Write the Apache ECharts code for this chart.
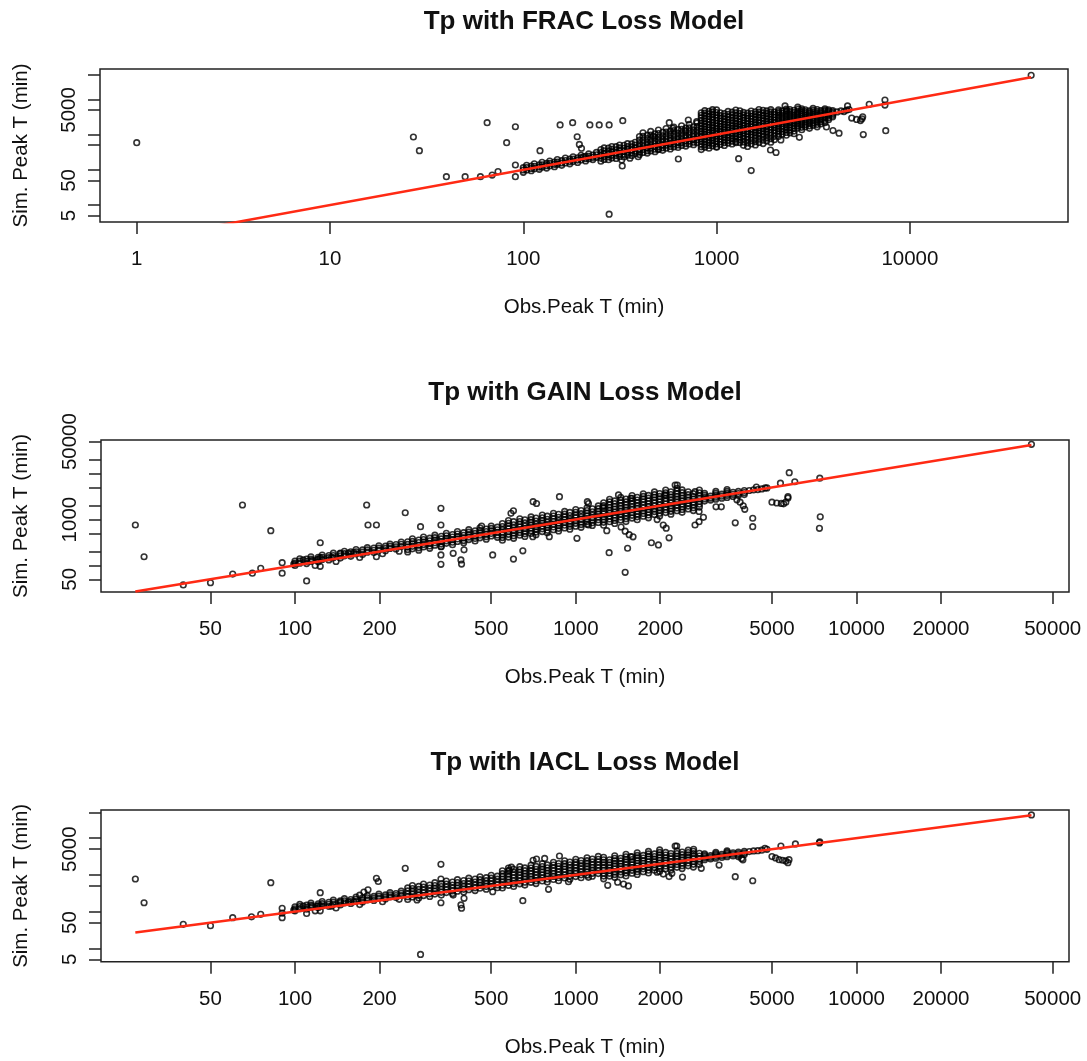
<!DOCTYPE html>
<html>
<head>
<meta charset="utf-8">
<script src="https://cdn.jsdelivr.net/npm/echarts@6/dist/echarts.min.js"></script>
<style>
  html, body { margin: 0; padding: 0; background: #ffffff; }
  #chart { width: 1087px; height: 1061px; }
</style>
</head>
<body>
<div id="chart"></div>
<script>
// ---- text ----
const titles = ['Tp with FRAC Loss Model', 'Tp with GAIN Loss Model', 'Tp with IACL Loss Model'];
const xAxisTitle = 'Obs.Peak T (min)';
const yAxisTitle = 'Sim. Peak T (min)';

// ---- tick values (minutes) ----
const fracXTicks = [1, 10, 100, 1000, 10000];
const lowerXTicks = [50, 100, 200, 500, 1000, 2000, 5000, 10000, 20000, 50000];
const fineYTicks = [5, 10, 50, 100, 500, 1000, 5000, 10000, 50000];
const fineYLabels = [5, 50, 5000];
const gainYTicks = [50, 100, 200, 500, 1000, 2000, 5000, 10000, 20000, 50000];
const gainYLabels = [50, 1000, 50000];

// ---- observed range spanned by the 1:1 line ----
const fracLine = [1, 42400];
const gainLine = [27, 42000];
const iaclLine = [27, 42000];

// ---- FRAC: dense band, [obs, [sim, ...]] ----
const fracBand = [
  [100,[85,99,115]],[104,[99,116,135]],[110,[94,109,127]],[114,[108,126,148]],[121,[103,120,139]],
  [125,[119,139,163]],[132,[112,131,152]],[137,[130,152,178]],[145,[123,143,167]],[150,[143,167,195]],
  [158,[134,156,182]],[165,[157,184,215]],[174,[148,172,200]],[181,[172,201,235]],[191,[162,189,220]],
  [199,[189,221,259]],[210,[179,208,242]],[218,[207,242,283]],[229,[195,227,263]],[239,[227,266,311]],
  [252,[176,212,252,308,378]],[262,[197,238,288,347,419]],[276,[193,231,276,338,414]],
  [287,[215,261,316,381,459]],[302,[211,253,302,370,453]],[315,[236,286,347,418,504]],
  [332,[232,278,332,407,498]],[346,[260,315,381,459,554]],[364,[255,305,364,446,546]],
  [379,[284,344,417,503,606]],
  [399,[271,320,379,459,559,700,878]],[416,[312,378,458,569,707,890,1123]],
  [438,[298,350,416,505,613,770,964]],[456,[342,414,502,624,775,975,1231]],
  [480,[326,385,456,553,672,842,1056]],[500,[375,454,550,684,850,1071,1350]],
  [526,[358,421,500,607,736,923,1157]],[548,[411,498,603,750,932,1174,1480]],
  [576,[392,461,547,664,806,1011,1267]],[601,[451,546,661,822,1022,1288,1623]],
  [632,[430,506,600,728,885,1109,1390]],[659,[494,598,725,901,1120,1412,1779]],
  [693,[471,555,658,799,970,1216,1525]],[722,[542,656,794,987,1227,1546,1949]],
  [760,[517,608,722,877,1064,1334,1672]],[792,[594,719,871,1083,1346,1696,2138]],
  [833,[375,450,541,637,750,884,1041,1232,1458,1743,2083,2500,2999,3534,4165]],
  [869,[435,522,626,738,869,1021,1199,1418,1677,2002,2390,2868,3441,4056,4780]],
  [913,[411,494,593,698,822,968,1141,1350,1598,1910,2283,2739,3287,3874,4565]],
  [953,[477,572,686,809,953,1119,1315,1555,1839,2195,2621,3145,3774,4387,5100]],
  [1000,[450,541,650,765,900,1061,1250,1479,1750,2092,2500,3000,3600,4243,5000]],
  [1045,[523,627,752,886,1045,1228,1442,1706,2017,2408,2874,3448,4138]],
  [1097,[494,593,713,839,987,1163,1371,1622,1920,2295,2743,3291,3949]],
  [1146,[573,688,825,972,1146,1346,1581,1870,2212,2640,3152,3782,4538]],
  [1203,[541,650,782,920,1083,1276,1504,1779,2105,2516,3008,3609,4331]],
  [1257,[629,754,905,1067,1257,1477,1735,2052,2426,2896,3457,4148,4978]],
  [1320,[594,714,858,1010,1188,1400,1650,1952,2310,2761,3300,3960,4752]],
  [1377,[496,618,771,922,1102,1292,1515,1798,2134,2543,3029,3596,4269]],
  [1446,[463,579,723,868,1041,1227,1446,1711,2024,2419,2892,3422,4049]],
  [1510,[544,678,846,1011,1208,1417,1661,1972,2341,2789,3322,3943,4681]],
  [1587,[508,635,794,953,1143,1347,1587,1878,2222,2656,3174,3756,4444]],
  [1656,[596,743,927,1108,1325,1554,1822,2163,2567,3058,3643,4325,5134]],
  [1740,[557,696,870,1044,1253,1476,1740,2059,2436,2911,3480,4118,4872]],
  [1816,[654,816,1017,1216,1453,1704,1998,2372,2815,3354,3995,4700]],
  [1907,[610,763,954,1145,1373,1618,1907,2257,2670,3191,3814,4400,5100]],
  [1990,[716,893,1114,1332,1592,1867,2189,2599,3085,3675,4378]],
  [2091,[878,1050,1255,1467,1715,1986,2300,2641,3032,3516,4077,4520,5018]],
  [2183,[1026,1225,1463,1714,2008,2312,2663,3069,3536,4074,4693]],
  [2294,[963,1151,1376,1609,1881,2178,2523,2897,3326,3857,4473,4870,5300]],
  [2393,[1125,1343,1603,1879,2202,2535,2919,3364,3877,4466,5145]],
  [2515,[1056,1262,1509,1764,2062,2389,2767,3177,3647,4229,4904]],
  [2625,[1523,1766,2048,2376,2756,3160,3623,4080,4594]],
  [2757,[1379,1608,1875,2157,2481,2865,3308,3760,4273,4793,5376]],
  [2877,[1669,1935,2244,2604,3021,3463,3970,4471,5035]],
  [3022,[1511,1762,2055,2364,2720,3140,3626,4121,4684]],
  [3155,[1830,2122,2461,2855,3313,3798,4354,4903,5521]],
  [3314,[1657,1933,2254,2593,2983,3444,3977,4520,5137]],
  [3460,[2007,2327,2699,3131,3633,4165,4775]],
  [3634,[2180,2517,2907,3250,3634,4063,4543,4953,5400]],
  [3795,[2657,3013,3416,3776,4174,4568,5000]],
  [3985,[3188,3564,3985,4365,4782]],
  [4200,[4400]],[4400,[4700]],[4560,[4500]],[4700,[4950]],[4850,[5150]]
];
// ---- FRAC: scattered points [obs, sim] ----
const fracScatter = [
  [1,590],[27,855],[29,350],[40,64],[50,64],[60,64],[65,2180],[69,71],[74,89],[82,590],[91,1670],
  [91,137],[91,64],[122,350],[155,1880],[180,2180],[190,870],[195,525],[200,410],[205,234],[221,1880],
  [247,1880],[278,1880],[327,2480],[278,5.5],[323,190],[325,129],[356,213],[393,236],[500,383],[634,203],
  [569,2180],[593,1510],[714,2600],[789,2340],[470,912],[690,1300],[1300,207],[1510,95],[1900,365],
  [2030,310],[2150,705],[2680,835],[1000,437],[1260,590],[2260,6500],[2630,6000],[2650,5300],[4760,6500],
  [6160,7250],[7430,9600],[7430,6900],[7500,1290],[5740,1000],[5000,2950],[5300,2700],[5550,2500],
  [5700,3200],[5650,2800],[3700,1650],[4300,1100],[4000,1300],[42400,48000]
];

// ---- GAIN ----
const gainBand = [
  [100,[100,112,125]],[104,[112,125,140]],[110,[110,123,138]],[114,[123,138,154]],[121,[121,135,151]],
  [125,[135,151,169]],[132,[132,148,165]],[137,[148,165,185]],[145,[145,162,181]],[150,[162,181,203]],
  [158,[158,177,198]],[165,[178,199,223]],[174,[174,195,218]],[181,[195,218,244]],[191,[191,214,239]],
  [199,[215,240,269]],[210,[210,235,263]],[218,[235,263,294]],[229,[229,256,286]],[239,[258,289,323]],
  [118,[100]],[140,[122]],[170,[150]],[205,[180]],[235,[205]],
  [252,[197,222,252,287,328]],[262,[231,261,296,335,380]],[276,[215,243,276,315,359]],
  [287,[253,286,324,367,416]],[302,[236,267,302,344,393]],[315,[277,314,356,403,457]],
  [332,[259,293,332,379,432]],[346,[304,345,391,443,502]],[364,[284,321,364,415,473]],
  [379,[334,378,428,485,550]],[399,[311,352,399,455,519]],[416,[366,415,470,532,603]],
  [438,[342,387,438,499,569]],[456,[401,455,515,583,661]],[480,[374,424,480,547,624]],
  [500,[440,499,565,640,725]],[526,[410,464,526,600,684]],
  [548,[356,406,466,530,603,704,822]],[576,[415,477,547,628,720,827,950]],
  [601,[391,447,511,581,661,772,902]],[632,[455,522,600,689,790,908,1043]],
  [659,[428,490,560,637,725,847,989]],[693,[499,573,658,755,866,995,1143]],
  [722,[469,537,614,698,794,927,1083]],[760,[547,628,722,828,950,1091,1254]],
  [792,[515,589,673,766,871,1017,1188]],[833,[600,689,791,907,1041,1196,1374]],
  [869,[565,646,739,841,956,1117,1304]],[913,[657,755,867,995,1141,1311,1506]],
  [953,[619,708,810,921,1048,1224,1430]],[1000,[720,827,950,1090,1250,1436,1650]],
  [1045,[679,777,888,1011,1150,1343,1568]],[1097,[790,907,1042,1195,1371,1575,1810]],
  [1146,[745,852,974,1108,1261,1472,1719]],[1203,[866,995,1143,1311,1504,1728,1985]],
  [1257,[754,871,1006,1152,1320,1524,1760,2023,2325]],[1320,[898,1033,1188,1372,1584,1829,2112,2420,2772]],
  [1377,[826,954,1102,1262,1446,1670,1928,2216,2547]],[1446,[983,1131,1301,1502,1735,2004,2314,2651,3037]],
  [1510,[906,1046,1208,1384,1586,1831,2114,2430,2794]],[1587,[1079,1241,1428,1649,1904,2199,2539,2909,3333]],
  [1656,[994,1148,1325,1518,1739,2008,2318,2665,3064]],[1740,[1183,1361,1566,1808,2088,2411,2784,3189,3654]],
  [1816,[1090,1258,1453,1665,1907,2202,2542,2923,3360]],[1907,[1297,1492,1716,1982,2288,2642,3051,3496,4005]],
  [1990,[1194,1379,1592,1824,2090,2413,2786,3203,3682]],[2091,[1422,1636,1882,2173,2509,2897,3346,3833,4391]],
  [2183,[1310,1512,1746,2000,2292,2647,3056,3513,4039]],[2294,[1560,1795,2065,2384,2753,3179,3670,4205,4817]],
  [2393,[1436,1658,1914,2193,2513,2901,3350,3851,4427]],[2515,[1710,1968,2264,2614,3018,3485,4024]],
  [2625,[1575,1819,2100,2406,2756,3183,3675]],[2757,[1875,2157,2481,2865,3308,3820,4411]],
  [2877,[2532,2805,3107,3409,3740]],[3022,[2660,2947,3264]],[3155,[2776,3075,3407,3737,4100]],
  [3314,[2916,3231,3579]],[3460,[3045,3373,3737,4101,4500]],[3634,[3198,3543,3925]],
  [3795,[3340,3700,4099]],[3985,[3507,3885,4304]],
  [4150,[4300]],[4300,[4450]],[4450,[4500]],[4600,[4650]],[4800,[4900]]
];
const gainScatter = [
  [27,762],[29,155],[40,37.6],[50,42],[60,65],[65,2080],[70.5,68],[75.5,87],[82,573],[90,115],[90,68],
  [99,107],[110,46],[107,132],[115,130],[120,135],[123,313],[123,148],[123,96],[135,148],[145,186],
  [155,186],[162,190],[180,2080],[182,762],[195,762],[195,155],[247,1410],[280,700],[331,1760],[331,762],
  [331,257],[331,170],[331,106],[366,184],[390,132],[392,107],[400,219],[462,725],[506,170],[588,1370],
  [600,1550],[600,138],[648,209],[705,2450],[725,2240],[703,424],[805,424],[875,3160],[1010,390],
  [1100,2450],[1110,2240],[1110,762],[1250,1900],[1290,573],[1315,190],[1420,3440],[1450,690],[1500,560],
  [1550,470],[1600,420],[1530,237],[1500,71],[1570,2900],[1860,313],[1970,280],[1950,1000],[2050,760],
  [2100,650],[2150,400],[2080,3440],[2260,5660],[2300,5660],[2750,1500],[2750,900],[2660,4050],[2660,762],
  [2850,1120],[3160,1900],[3300,1900],[3700,850],[3750,2700],[3850,2400],[3950,2000],[4000,1675],
  [4270,1070],[4270,700],[4400,5100],[4730,4900],[5000,2400],[5200,2300],[5400,2250],[5500,2200],
  [5600,2400],[5700,3150],[5700,2950],[5360,6200],[5760,10500],[6030,6680],[7380,645],[7430,1150],
  [7400,8000],[42000,43600]
];

// ---- IACL ----
const iaclBand = [
  [100,[105,119,135]],[104,[120,137,156]],[110,[116,131,149]],[114,[131,150,171]],[121,[127,144,163]],
  [125,[144,164,188]],[132,[139,157,178]],[137,[158,180,206]],[145,[152,173,196]],[150,[173,197,225]],
  [158,[166,188,213]],[165,[190,217,248]],[174,[183,207,235]],[181,[208,238,272]],[191,[201,228,258]],
  [199,[229,262,299]],[210,[221,251,284]],[218,[251,286,327]],[229,[240,272,309]],[239,[275,314,359]],
  [118,[105]],[140,[125]],[170,[155]],[205,[185]],[235,[215]],
  [252,[214,254,302,365,441]],[262,[249,297,354,425,511]],[276,[235,279,331,400,483]],
  [287,[273,325,387,465,560]],[302,[257,305,362,438,529]],[315,[299,357,425,511,614]],
  [332,[282,335,398,481,581]],[346,[329,392,467,561,675]],[364,[309,368,437,528,637]],
  [379,[360,429,512,615,739]],[399,[339,403,479,578,698]],[416,[395,471,562,675,811]],
  [438,[372,442,526,635,767]],[456,[433,516,616,740,889]],[480,[408,485,576,696,840]],
  [500,[475,566,675,811,975]],[526,[447,531,631,762,921]],
  [548,[438,525,630,755,904,1079,1288]],[576,[518,623,749,893,1066,1276,1526]],
  [601,[481,577,691,829,992,1184,1412]],[632,[569,684,822,980,1169,1399,1675]],
  [659,[527,632,758,909,1087,1298,1549]],[693,[624,750,901,1075,1282,1534,1836]],
  [722,[578,693,830,996,1191,1422,1697]],[760,[684,822,988,1179,1406,1683,2014]],
  [792,[634,760,911,1092,1307,1560,1861]],[833,[750,901,1083,1292,1541,1844,2207]],
  [869,[695,834,999,1199,1434,1712,2042]],[913,[822,988,1187,1416,1689,2021,2419]],
  [953,[762,914,1096,1315,1572,1877,2240]],[1000,[900,1082,1300,1551,1850,2214,2650]],
  [1045,[836,1003,1202,1442,1724,2058,2456]],[1097,[987,1186,1426,1701,2029,2429,2907]],
  [1146,[917,1100,1318,1581,1891,2257,2693]],[1203,[1083,1301,1564,1866,2226,2664,3188]],
  [1257,[779,928,1106,1318,1571,1859,2200,2576,3017]],[1320,[924,1104,1320,1562,1848,2181,2574]],
  [1377,[854,1017,1212,1444,1721,2037,2410,2822,3305]],[1446,[1012,1210,1446,1711,2024,2389,2820]],
  [1510,[936,1115,1329,1584,1888,2234,2643,3095,3624]],[1587,[1111,1328,1587,1878,2222,2622,3095]],
  [1656,[1027,1223,1457,1737,2070,2449,2898,3394,3974]],[1740,[1218,1456,1740,2059,2436,2875,3393]],
  [1816,[1126,1341,1598,1905,2270,2686,3178,3722,4358]],[1907,[1335,1596,1907,2256,2670,3151,3719]],
  [1990,[1234,1470,1751,2087,2488,2944,3483,4079,4776]],[2091,[1464,1750,2091,2474,2927,3455,4077]],
  [2183,[1353,1612,1921,2290,2729,3229,3820]],[2294,[1606,1919,2294,2714,3212,3790,4473]],
  [2393,[1484,1768,2106,2510,2991,3539,4188]],[2515,[1761,2105,2515,2976,3521,4068,4700]],
  [2625,[1628,1939,2310,2753,3281,3800,4400]],[2757,[1930,2307,2757,3262,3860]],
  [2877,[2589,2862,3165,3441,3740]],[3022,[2720,3007,3324]],[3155,[2840,3140,3471,3773,4100]],
  [3314,[2983,3297,3645]],[3460,[3114,3443,3806,4139,4500]],[3634,[3271,3616,3997]],
  [3795,[3416,3776,4175]],[3985,[3587,3966,4384]],
  [4150,[4300]],[4300,[4500]],[4450,[4550]],[4600,[4700]],[4800,[4950]]
];
const iaclScatter = [
  [27,770],[29,174],[40,45],[50,41],[60,68],[70,72],[75.5,84],[82,611],[90,123],[90,91],[90,68],[99,110],
  [110,89],[107,141],[115,141],[120,141],[123,327],[123,141],[123,105],[135,141],[145,185],[155,185],
  [162,185],[170,280],[176,340],[182,390],[195,805],[198,660],[247,1510],[272,207],[280,6.8],[331,1940],
  [331,770],[331,174],[366,282],[390,152],[392,123],[400,229],[506,347],[580,1350],[590,1620],[648,198],
  [705,2500],[725,2700],[775,2800],[800,404],[875,3260],[942,650],[1110,857],[1300,519],[1410,630],
  [1480,560],[1540,500],[1570,3130],[1950,1180],[2050,1050],[2150,900],[2200,1100],[2400,870],[2260,6100],
  [2290,6100],[2630,4970],[2800,1510],[3240,1850],[3700,890],[3800,3100],[3900,2800],[3940,2570],
  [4270,690],[4720,5280],[5000,3150],[5150,2900],[5300,2600],[5450,2500],[5600,2400],[5700,2150],
  [5750,2600],[5380,6100],[6060,6950],[7380,7400],[7400,7900],[42000,43000]
];

// ---- layout: plot boxes and log10 axis extents ----
const FONT = '"Liberation Sans", Arial, Helvetica, sans-serif';
const INK = '#111111';
const panels = [
  { box: { left: 100, top: 69, width: 968, height: 153 }, xr: [-0.190, 4.818], yr: [0.519, 4.862],
    xt: fracXTicks, xl: fracXTicks, yt: fineYTicks, yl: fineYLabels,
    band: fracBand, pts: fracScatter, line: fracLine, titleY: 22, xNameY: 307.5 },
  { box: { left: 101, top: 440, width: 968, height: 152 }, xr: [1.309, 4.757], yr: [1.422, 4.734],
    xt: lowerXTicks, xl: lowerXTicks, yt: gainYTicks, yl: gainYLabels,
    band: gainBand, pts: gainScatter, line: gainLine, titleY: 393, xNameY: 677.5 },
  { box: { left: 101, top: 810, width: 968, height: 151.7 }, xr: [1.309, 4.757], yr: [0.634, 4.767],
    xt: lowerXTicks, xl: lowerXTicks, yt: fineYTicks, yl: fineYLabels,
    band: iaclBand, pts: iaclScatter, line: iaclLine, titleY: 763, xNameY: 1047 }
];

const lg = v => Math.log10(v);
const fmt = v => String(Math.round(Math.pow(10, v)));
const tickStyle = { show: true, length: 12, lineStyle: { color: '#222', width: 1.5 } };

const grid = [], xAxis = [], yAxis = [], series = [], graphic = [];

panels.forEach((p, i) => {
  grid.push(Object.assign({ show: true, borderColor: '#222', borderWidth: 1.5,
    backgroundColor: 'transparent', containLabel: false }, p.box));

  xAxis.push({
    type: 'value', gridIndex: i, min: p.xr[0], max: p.xr[1],
    axisLine: { show: false, onZero: false }, splitLine: { show: false },
    axisTick: Object.assign({ customValues: p.xt.map(lg) }, tickStyle),
    axisLabel: { customValues: p.xl.map(lg), formatter: fmt, margin: 27,
      fontSize: 20.5, fontFamily: FONT, color: INK }
  });
  yAxis.push({
    type: 'value', gridIndex: i, min: p.yr[0], max: p.yr[1],
    axisLine: { show: false, onZero: false }, splitLine: { show: false },
    axisTick: Object.assign({ customValues: p.yt.map(lg) }, tickStyle),
    axisLabel: { customValues: p.yl.map(lg), formatter: fmt, rotate: 90, margin: 20,
      fontSize: 20.5, fontFamily: FONT, color: INK }
  });

  const pts = p.band.flatMap(([o, sims]) => sims.map(s => [o, s])).concat(p.pts);
  series.push({
    type: 'scatter', xAxisIndex: i, yAxisIndex: i, silent: true, z: 2,
    symbol: 'circle', symbolSize: 5.6, large: false, progressive: 0,
    itemStyle: { color: 'rgba(0,0,0,0)', borderColor: '#000', borderWidth: 1.6 },
    data: pts.map(([o, s]) => [lg(o), lg(s)])
  });
  series.push({
    type: 'line', xAxisIndex: i, yAxisIndex: i, silent: true, z: 3,
    symbol: 'none', clip: true,
    lineStyle: { color: '#ff2a14', width: 2.5 },
    data: p.line.map(v => [lg(v), lg(v)])
  });

  const cx = p.box.left + p.box.width / 2;
  const cy = p.box.top + p.box.height / 2;
  graphic.push({ type: 'text', x: cx, y: p.titleY, silent: true,
    style: { text: titles[i], fontSize: 26, fontWeight: 'bold', fontFamily: FONT, fill: INK,
      align: 'center', verticalAlign: 'middle', textAlign: 'center', textVerticalAlign: 'middle' } });
  graphic.push({ type: 'text', x: cx, y: p.xNameY, silent: true,
    style: { text: xAxisTitle, fontSize: 20.5, fontFamily: FONT, fill: INK,
      align: 'center', verticalAlign: 'middle', textAlign: 'center', textVerticalAlign: 'middle' } });
  graphic.push({ type: 'text', x: 21.5, y: cy, rotation: Math.PI / 2, silent: true,
    style: { text: yAxisTitle, fontSize: 20.5, fontFamily: FONT, fill: INK,
      align: 'center', verticalAlign: 'middle', textAlign: 'center', textVerticalAlign: 'middle' } });
});

const chart = echarts.init(document.getElementById('chart'), null, { renderer: 'canvas' });
chart.setOption({ animation: false, backgroundColor: '#ffffff', grid, xAxis, yAxis, series, graphic });
</script>
</body>
</html>
